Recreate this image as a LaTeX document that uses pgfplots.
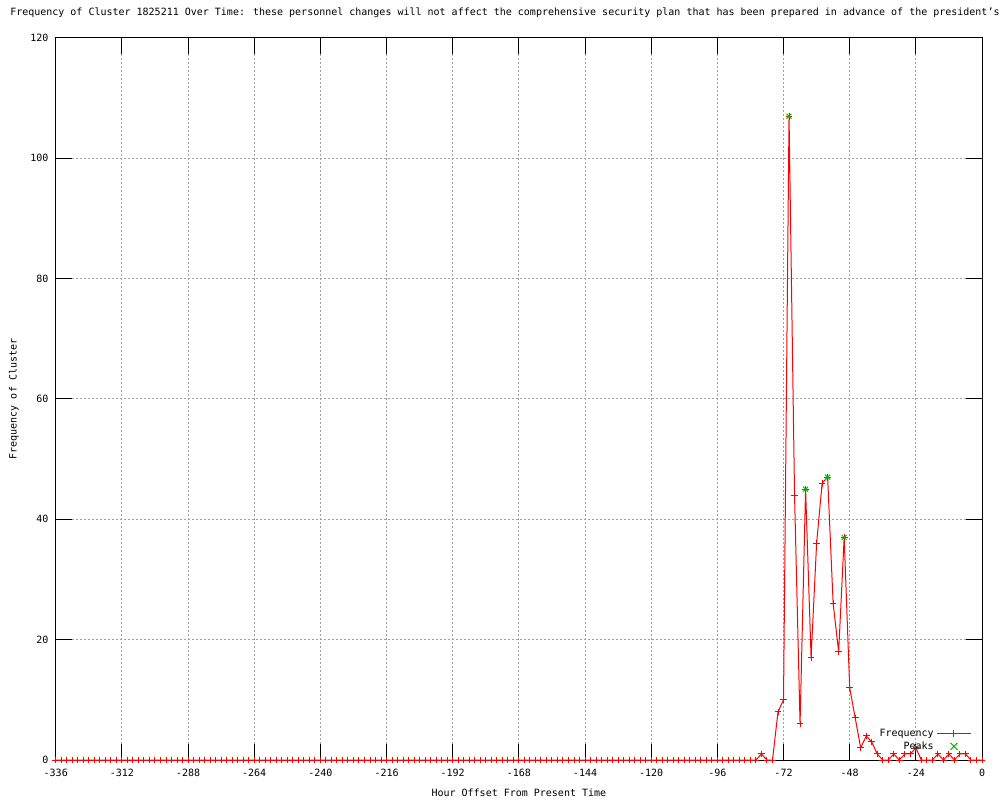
\documentclass[border=0pt]{standalone}
\usepackage{pgfplots}
\pgfplotsset{compat=1.18}
\usepackage{fontspec}
\setmainfont{DejaVu Sans Mono}
\definecolor{gpred}{RGB}{255,0,0}
\definecolor{gpgreen}{RGB}{0,192,0}
\definecolor{gpgrid}{RGB}{160,160,160}
\begin{document}
\begin{tikzpicture}
\useasboundingbox (0,0) rectangle (750pt,600pt);
\node[anchor=west,inner sep=0pt,font=\fontsize{7.5}{9}\selectfont] at (7.5pt,590.25pt) {Frequency of Cluster 1825211 Over Time: these personnel changes will not affect the comprehensive security plan that has been prepared in advance of the president's};
\begin{axis}[
  at={(41.8pt,30pt)}, anchor=south west,
  scale only axis, width=694.7pt, height=541.5pt,
  xmin=-336, xmax=0, ymin=0, ymax=120,
  xtick={-336,-312,-288,-264,-240,-216,-192,-168,-144,-120,-96,-72,-48,-24,0},
  xticklabels={-336,-312,-288,-264,-240,-216,-192,-168,-144,-120,-96,-72,-48,-24,0},
  ytick={0,20,40,60,80,100,120},
  yticklabels={0,20,40,60,80,100,120},
  tick align=inside, xtick pos=both, ytick pos=both,
  major tick length=12pt,
  tick style={black, line width=0.75pt},
  axis line style={black, line width=0.75pt},
  grid=major,
  major grid style={gpgrid, line width=0.75pt, dash pattern=on 1.5pt off 1.5pt},
  ticklabel style={font=\fontsize{7.5}{9}\selectfont},
  xticklabel style={yshift=-3pt},
  yticklabel style={xshift=-2pt},
  xlabel={Hour Offset From Present Time},
  ylabel={Frequency of Cluster},
  label style={font=\fontsize{7.5}{9}\selectfont},
  xlabel style={at={(axis description cs:0.5,0)}, anchor=center, yshift=-24.75pt},
  ylabel style={at={(axis description cs:-0.0452,0.5)}, anchor=center, rotate=0},
  legend style={at={(0.989,0.047)}, anchor=north east, draw=none, fill=none,
    font=\fontsize{7.5}{9}\selectfont, row sep=-1.5pt, inner sep=0pt},
  legend cell align=right,
  legend plot pos=right,
]
\addplot[color=gpred, line width=0.75pt, mark=+, mark size=2.5pt, mark options={color=gpred, line width=0.75pt},
  legend image code/.code={\draw[gpred, line width=0.75pt] (0cm,0cm) -- (0.9cm,0cm);
    \draw[gpred, line width=0.75pt] (0.45cm,-2.5pt) -- (0.45cm,2.5pt);}] coordinates {
(-336,0)(-334,0)(-332,0)(-330,0)(-328,0)(-326,0)(-324,0)(-322,0)(-320,0)(-318,0)(-316,0)(-314,0)(-312,0)(-310,0)(-308,0)(-306,0)
(-304,0)(-302,0)(-300,0)(-298,0)(-296,0)(-294,0)(-292,0)(-290,0)(-288,0)(-286,0)(-284,0)(-282,0)(-280,0)(-278,0)(-276,0)(-274,0)
(-272,0)(-270,0)(-268,0)(-266,0)(-264,0)(-262,0)(-260,0)(-258,0)(-256,0)(-254,0)(-252,0)(-250,0)(-248,0)(-246,0)(-244,0)(-242,0)
(-240,0)(-238,0)(-236,0)(-234,0)(-232,0)(-230,0)(-228,0)(-226,0)(-224,0)(-222,0)(-220,0)(-218,0)(-216,0)(-214,0)(-212,0)(-210,0)
(-208,0)(-206,0)(-204,0)(-202,0)(-200,0)(-198,0)(-196,0)(-194,0)(-192,0)(-190,0)(-188,0)(-186,0)(-184,0)(-182,0)(-180,0)(-178,0)
(-176,0)(-174,0)(-172,0)(-170,0)(-168,0)(-166,0)(-164,0)(-162,0)(-160,0)(-158,0)(-156,0)(-154,0)(-152,0)(-150,0)(-148,0)(-146,0)
(-144,0)(-142,0)(-140,0)(-138,0)(-136,0)(-134,0)(-132,0)(-130,0)(-128,0)(-126,0)(-124,0)(-122,0)(-120,0)(-118,0)(-116,0)(-114,0)
(-112,0)(-110,0)(-108,0)(-106,0)(-104,0)(-102,0)(-100,0)(-98,0)(-96,0)(-94,0)(-92,0)(-90,0)(-88,0)(-86,0)(-84,0)(-82,0)
(-80,1)(-78,0)(-76,0)(-74,8)(-72,10)(-70,107)(-68,44)(-66,6)(-64,45)(-62,17)(-60,36)(-58,46)(-56,47)(-54,26)(-52,18)(-50,37)
(-48,12)(-46,7)(-44,2)(-42,4)(-40,3)(-38,1)(-36,0)(-34,0)(-32,1)(-30,0)(-28,1)(-26,1)(-24,2)(-22,0)(-20,0)(-18,0)(-16,1)(-14,0)
(-12,1)(-10,0)(-8,1)(-6,1)(-4,0)(-2,0)(0,0)
};
\addlegendentry{Frequency}
\addplot[color=gpgreen, only marks, mark=x, mark size=2.6pt, mark options={color=gpgreen, line width=0.75pt},
  legend image code/.code={\draw[gpgreen, line width=0.75pt] (0.45cm-2.6pt,-2.6pt) -- (0.45cm+2.6pt,2.6pt) (0.45cm-2.6pt,2.6pt) -- (0.45cm+2.6pt,-2.6pt);
    \path (0cm,0cm) (0.9cm,0cm);}] coordinates {
(-70,107)(-64,45)(-56,47)(-50,37)
};
\addlegendentry{Peaks}
\end{axis}
\end{tikzpicture}
\end{document}
